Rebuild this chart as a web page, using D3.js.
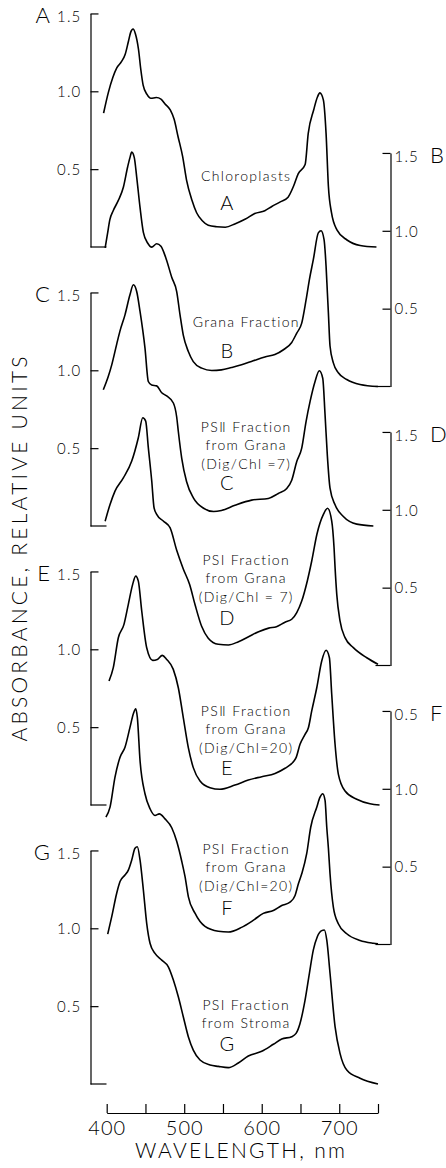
<!DOCTYPE html>
<html>
<head>
<meta charset="utf-8">
<script src="https://cdn.jsdelivr.net/npm/d3@7"></script>
<style>
body { margin: 0; background: #fff; }
svg { display: block; }
text { font-family: Lato, "DejaVu Sans", sans-serif; fill: #000; }
</style>
</head>
<body>
<svg id="chart" width="446" height="1168"></svg>
<script>
/*
Absorption spectra of chloroplast fractions, A to G.
Each spectrum sits on its own absorbance axis, left and right in turn.
*/

//wavelength axis
var wavelengthTicks = [400, 450, 500, 550, 600, 650, 700, 750];
var wavelengthLabels = [400, 500, 600, 700];

//absorbance axis ticks and the labels as printed
var absTicks = [0.5, 1.0, 1.5];
var absTickLabels = ["0.5", "1.0", "1.5"];
var absTickLabelsF = ["0.5", "1.0", "0.5"]; //top label is printed 0.5 in the original

//spectra, [wavelength nm, absorbance]
var chloroplastsA = [[396,0.86],[402,0.99],[408,1.09],[413,1.15],[419,1.19],[424,1.24],[428,1.32],[431,1.38],[434,1.40],[437,1.37],[441,1.27],[444,1.14],[447,1.04],[452,0.98],[457,0.955],[464,0.96],[470,0.95],[475,0.92],[482,0.88],[487,0.82],[492,0.71],[498,0.58],[503,0.43],[510,0.30],[516,0.22],[523,0.17],[531,0.14],[542,0.13],[553,0.127],[566,0.15],[579,0.18],[591,0.215],[604,0.233],[613,0.26],[624,0.29],[634,0.32],[641,0.39],[647,0.47],[656,0.53],[660,0.73],[667,0.88],[672,0.965],[675,0.99],[679.5,0.945],[683,0.73],[686,0.39],[690,0.22],[697,0.11],[710,0.045],[727,0.01],[748,0.0]];

var granaB = [[398,0.89],[401,0.98],[404,1.07],[408.5,1.13],[415,1.195],[421.5,1.28],[427,1.41],[430,1.47],[432.3,1.505],[435.6,1.47],[438.7,1.345],[443,1.15],[447.3,0.99],[453,0.92],[458,0.895],[464.5,0.917],[470,0.90],[476,0.83],[484,0.70],[490.3,0.61],[494.6,0.46],[498.8,0.33],[505.3,0.225],[511.7,0.16],[522.6,0.118],[535.5,0.103],[548,0.107],[561,0.122],[574,0.139],[589,0.165],[604,0.19],[617,0.205],[628,0.236],[638.7,0.283],[645.2,0.343],[651.6,0.407],[657.2,0.556],[661.5,0.687],[666.6,0.816],[673,0.987],[676.5,1.0],[680.4,0.944],[683,0.773],[684.7,0.602],[686,0.473],[688.1,0.26],[692.4,0.152],[698.8,0.088],[709.7,0.045],[726.8,0.013],[750,0.0]];

var psiiGranaC = [[395.6,0.875],[402,0.96],[406.5,1.035],[413,1.17],[417,1.25],[423.6,1.356],[430,1.485],[434.4,1.549],[438.7,1.506],[443,1.378],[449.4,1.142],[453.7,0.928],[458,0.905],[464.5,0.9],[471,0.856],[477.4,0.835],[486,0.79],[490.3,0.70],[492.4,0.607],[496.8,0.435],[503,0.286],[512,0.179],[525,0.114],[538,0.093],[548,0.10],[565.5,0.133],[587,0.166],[608.5,0.177],[621.4,0.209],[632.3,0.241],[638.7,0.294],[645.2,0.414],[651.6,0.5],[657.2,0.671],[662.4,0.8],[668.8,0.928],[674.3,0.997],[678.7,0.949],[681.7,0.714],[684.6,0.457],[688.1,0.243],[694.6,0.136],[705.3,0.061],[722.6,0.012],[744,0.0]];

var psiGranaD = [[398,0.927],[404.3,1.034],[410.7,1.12],[421.5,1.205],[432.3,1.313],[440.8,1.463],[446.5,1.591],[450.3,1.57],[453.7,1.399],[458.1,1.185],[461.1,1.013],[464.5,0.971],[473,0.928],[481.7,0.885],[490.3,0.74],[498.8,0.62],[507,0.52],[514,0.39],[522.6,0.25],[531,0.175],[544,0.136],[557,0.132],[570,0.153],[583,0.185],[596,0.217],[609,0.24],[619,0.249],[630,0.278],[638.7,0.297],[645.2,0.34],[651.6,0.414],[658.8,0.543],[664.5,0.671],[671.2,0.843],[679.7,0.972],[684.9,1.01],[690.3,0.928],[693.3,0.756],[694.6,0.63],[696.8,0.457],[701,0.286],[707.5,0.179],[718.2,0.115],[735.5,0.05],[750,0.008]];

var psiiGranaE = [[403,0.796],[408.5,0.882],[415,1.074],[422.3,1.16],[427.9,1.289],[433.5,1.417],[437.4,1.47],[440.8,1.438],[445.2,1.246],[451.6,1.01],[459.4,0.929],[465.3,0.935],[471.7,0.961],[477.4,0.935],[485.9,0.871],[492.4,0.753],[498.8,0.561],[505.3,0.368],[511.7,0.24],[520.4,0.154],[533.3,0.111],[546,0.101],[565.5,0.128],[582.7,0.16],[600,0.182],[617.2,0.203],[630.1,0.236],[640.8,0.278],[644.3,0.304],[649.4,0.39],[655.9,0.454],[660.2,0.496],[664.5,0.604],[671,0.753],[677.4,0.925],[683,0.994],[687.3,0.946],[690.3,0.711],[694.6,0.39],[698.9,0.197],[707.5,0.09],[722.6,0.037],[739.7,0.008],[752,0.0]];

var psiGranaF = [[399,0.818],[404.3,0.882],[410.7,1.075],[417.2,1.203],[423.6,1.267],[430.1,1.396],[434.4,1.482],[437.4,1.514],[439.5,1.46],[443,1.182],[449.4,0.968],[455.9,0.872],[462.3,0.829],[467.9,0.839],[475.2,0.807],[483.9,0.75],[490.3,0.663],[496.8,0.535],[501,0.437],[505.3,0.308],[513.9,0.201],[526.8,0.116],[544,0.085],[556.9,0.08],[574,0.11],[589,0.155],[602,0.2],[615,0.218],[625.8,0.25],[636.5,0.272],[643,0.315],[647.3,0.39],[651.6,0.454],[658,0.583],[663.2,0.753],[671,0.882],[675.2,0.946],[678.7,0.968],[681.7,0.925],[683.9,0.753],[686,0.62],[688.1,0.454],[692.4,0.24],[698.8,0.133],[709.7,0.069],[726.8,0.026],[744,0.008],[750,0.004]];

var psiStromaG = [[401.3,0.963],[406.5,1.075],[412.9,1.225],[417.2,1.3],[423.6,1.342],[427.9,1.374],[432.3,1.439],[436.5,1.514],[439.5,1.524],[443,1.439],[447.3,1.246],[451.6,1.032],[455.9,0.904],[462.3,0.839],[471,0.796],[479.5,0.753],[486,0.668],[492.4,0.56],[498.8,0.432],[505.3,0.304],[511.7,0.218],[520.4,0.154],[533.3,0.122],[544,0.113],[556.9,0.105],[569.8,0.135],[582.7,0.18],[600,0.21],[615,0.255],[625.8,0.289],[638.7,0.304],[644.3,0.325],[649.4,0.389],[655.9,0.539],[661.5,0.711],[666.6,0.861],[671.7,0.946],[677.4,0.985],[680.8,0.989],[683.9,0.925],[688.1,0.711],[694.6,0.368],[701,0.197],[709.7,0.09],[726.8,0.037],[750,0.0]];

//curve names as printed
var curveLetters = ["A", "B", "C", "D", "E", "F", "G"];
var curveTexts = [
	["Chloroplasts"],
	["Grana Fraction"],
	["PS\u2161 Fraction", "from Grana", "(Dig/Chl =7)"],
	["PSI Fraction", "from Grana", "(Dig/Chl = 7)"],
	["PS\u2161 Fraction", "from Grana", "(Dig/Chl=20)"],
	["PSI Fraction", "from Grana", "(Dig/Chl=20)"],
	["PSI Fraction", "from Stroma"]
];

/*
Layout: where each panel sits, where its label goes.
Label places are given in data units of their own panel.
*/
var svg = d3.select("#chart");

var xScale = d3.scaleLinear()
.domain([400, 750])
.range([106.7, 378]);

var leftAxisX = 90.5;
var rightAxisX = 390.5;
var firstZero = 247;
var panelStep = 139.5;
var unitPx = 155.7;

var panels = [
	{data: chloroplastsA, side: "left",  labels: absTickLabels,  textAt: 0.456, letterAt: 0.283},
	{data: granaB,        side: "right", labels: absTickLabels,  textAt: 0.414, letterAt: 0.228},
	{data: psiiGranaC,    side: "left",  labels: absTickLabels,  textAt: 0.636, letterAt: 0.276},
	{data: psiGranaD,     side: "right", labels: absTickLabels,  textAt: 0.678, letterAt: 0.305},
	{data: psiiGranaE,    side: "left",  labels: absTickLabels,  textAt: 0.604, letterAt: 0.238},
	{data: psiGranaF,     side: "right", labels: absTickLabelsF, textAt: 0.613, letterAt: 0.236},
	{data: psiStromaG,    side: "left",  labels: absTickLabels,  textAt: 0.507, letterAt: 0.26}
];

var line = d3.line()
.x(function(d){ return xScale(d[0]); })
.y(function(d){ return d.yScale(d[1]); })
.curve(d3.curveMonotoneX);

panels.forEach(function(p, i){
	var y0 = firstZero + i * panelStep;
	var yScale = d3.scaleLinear()
	.domain([0, 1.5])
	.range([y0, y0 - 1.5 * unitPx]);

	var isLeft = p.side === "left";
	var axisX = isLeft ? leftAxisX : rightAxisX;

	//ticks point inward, labels sit outside
	var axis = (isLeft ? d3.axisLeft(yScale) : d3.axisRight(yScale))
	.tickValues(absTicks)
	.tickSizeInner(-8)
	.tickSizeOuter(0)
	.tickPadding(isLeft ? 9 : 4)
	.tickFormat(function(d, j){ return p.labels[j]; });

	var g = svg.append("g")
	.attr("transform", "translate(" + axisX + ",0)")
	.call(axis);

	g.select(".domain").attr("stroke-width", 1.2);
	g.selectAll(".tick line").attr("stroke-width", 1.2);
	g.selectAll(".tick text")
	.attr("font-family", "Lato, 'DejaVu Sans', sans-serif")
	.attr("font-size", 15)
	.attr("font-weight", 300)
	.attr("letter-spacing", 1.2)
	.attr("dy", function(d){ return d === 1.5 ? "0.55em" : "0.35em"; });

	//long tick at the zero line
	g.append("line")
	.attr("x1", 0)
	.attr("x2", isLeft ? 16 : -15)
	.attr("y1", yScale(0))
	.attr("y2", yScale(0))
	.attr("stroke", "#000")
	.attr("stroke-width", 1.2);

	//panel letter next to the top tick label
	var topLabel = g.selectAll(".tick text").filter(function(d){ return d === 1.5; });
	var labelWidth = topLabel.node().getComputedTextLength();
	svg.append("text")
	.attr("x", isLeft ? axisX - 9 - labelWidth - 7 : axisX + 4 + labelWidth + 11)
	.attr("y", yScale(1.5))
	.attr("dy", "0.45em")
	.attr("text-anchor", isLeft ? "end" : "start")
	.attr("font-size", 22)
	.attr("font-weight", 300)
	.text(curveLetters[i]);

	//spectrum
	var pts = p.data.map(function(d){
		var q = [d[0], d[1]];
		q.yScale = yScale;
		return q;
	});
	svg.append("path")
	.attr("d", line(pts))
	.attr("fill", "none")
	.attr("stroke", "#000")
	.attr("stroke-width", 1.6)
	.attr("stroke-linejoin", "round");

	//curve name, then its big letter
	var nameGroup = svg.append("text")
	.attr("text-anchor", "middle")
	.attr("font-size", 14)
	.attr("font-weight", 300)
	.attr("letter-spacing", 1.3);
	curveTexts[i].forEach(function(t, k){
		nameGroup.append("tspan")
		.attr("x", xScale(580))
		.attr("y", yScale(p.textAt) + k * 18.5)
		.attr("dy", "0.35em")
		.text(t);
	});

	svg.append("text")
	.attr("x", xScale(555))
	.attr("y", yScale(p.letterAt))
	.attr("dy", "0.35em")
	.attr("text-anchor", "middle")
	.attr("font-size", 20)
	.attr("font-weight", 300)
	.text(curveLetters[i]);
});

//wavelength axis at the bottom, ticks pointing up
var xAxis = d3.axisBottom(xScale)
.tickValues(wavelengthTicks)
.tickSizeInner(-9)
.tickSizeOuter(0)
.tickPadding(8)
.tickFormat(function(d){ return wavelengthLabels.indexOf(d) >= 0 ? d : ""; });

var xg = svg.append("g")
.attr("transform", "translate(0,1113)")
.call(xAxis);

xg.select(".domain").attr("stroke-width", 1.2);
xg.selectAll(".tick line").attr("stroke-width", 1.2);
xg.selectAll(".tick text")
.attr("font-family", "Lato, 'DejaVu Sans', sans-serif")
.attr("font-size", 20)
.attr("font-weight", 300)
.attr("letter-spacing", 1);

svg.append("text")
.attr("x", 240)
.attr("y", 1151)
.attr("dy", "0.35em")
.attr("text-anchor", "middle")
.attr("font-size", 21)
.attr("font-weight", 300)
.attr("textLength", 210)
.attr("lengthAdjust", "spacing")
.text("WAVELENGTH, nm");

svg.append("text")
.attr("transform", "translate(20,549) rotate(-90)")
.attr("dy", "0.35em")
.attr("text-anchor", "middle")
.attr("font-size", 21)
.attr("font-weight", 300)
.attr("textLength", 385)
.attr("lengthAdjust", "spacing")
.text("ABSORBANCE, RELATIVE UNITS");
</script>
</body>
</html>
